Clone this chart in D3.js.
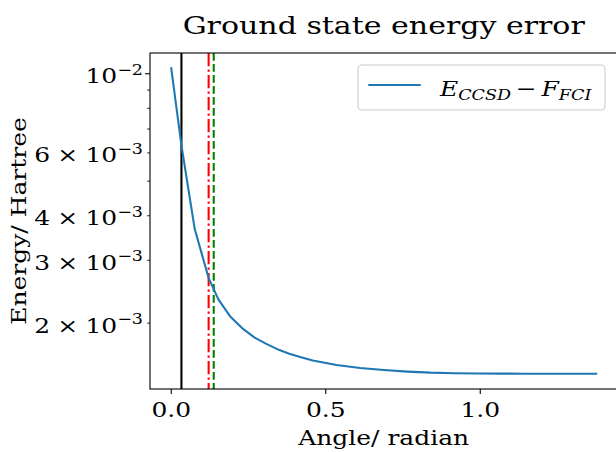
<!DOCTYPE html>
<html>
<head>
<meta charset="utf-8">
<script src="https://cdn.jsdelivr.net/npm/d3@7"></script>
<style>
  body { margin: 0; background: #fff; }
  text { font-family: "DejaVu Serif", serif; fill: #000; }
</style>
</head>
<body>
<svg id="chart" width="616" height="452"></svg>
<script>
// values
const angle = [0, 0.033, 0.076, 0.121, 0.153, 0.19, 0.229, 0.27, 0.306, 0.35, 0.382, 0.42, 0.458,
  0.535, 0.611, 0.688, 0.764, 0.840, 0.917, 0.993, 1.069, 1.146, 1.222, 1.299, 1.375];
const energyError = [1.036e-2, 6.30e-3, 3.67e-3, 2.675e-3, 2.327e-3, 2.092e-3, 1.937e-3, 1.822e-3,
  1.753e-3, 1.681e-3, 1.641e-3, 1.604e-3, 1.572e-3, 1.527e-3, 1.497e-3, 1.478e-3, 1.463e-3,
  1.453e-3, 1.448e-3, 1.445e-3, 1.444e-3, 1.443e-3, 1.443e-3, 1.443e-3, 1.443e-3];

const vlineX = [0.033, 0.121, 0.1375];
const vlineColor = ["#000000", "#ff0000", "#008000"];
const vlineDash = [null, "13.3,3.3,2.1,3.3", "7.7,3.3"];

const xTicks = [0, 0.5, 1.0];
const xTickLabels = ["0.0", "0.5", "1.0"];
const yMajorTicks = [1e-2];
const yMinorTicks = [2e-3, 3e-3, 4e-3, 5e-3, 6e-3, 7e-3, 8e-3, 9e-3];
// labelled ticks: [value, mantissa, exponent]
const yTickLabels = [[1e-2, "", "−2"], [6e-3, "6", "−3"], [4e-3, "4", "−3"], [3e-3, "3", "−3"], [2e-3, "2", "−3"]];

const W = 616, H = 452;
const mLeft = 150, mRight = 617.4, mTop = 53, mBottom = 389;
const stretch = 1.2; // text in the picture is wider than plain DejaVu Serif

const svg = d3.select("#chart");

// 5% margins like matplotlib
let xmin = d3.min(angle), xmax = d3.max(angle);
let xpad = (xmax - xmin) * 0.05;
let x = d3.scaleLinear().domain([xmin - xpad, xmax + xpad]).range([mLeft, mRight]);

let lmin = Math.log10(d3.min(energyError)), lmax = Math.log10(d3.max(energyError));
let lpad = (lmax - lmin) * 0.05;
let y = d3.scaleLog().domain([Math.pow(10, lmin - lpad), Math.pow(10, lmax + lpad)]).range([mBottom, mTop]);

function stext(parent, px, py, size, anchor, rot) {
  return parent.append("text")
    .attr("transform", "translate(" + px + "," + py + ")" + (rot ? " rotate(" + rot + ")" : "") + " scale(" + stretch + ",1)")
    .attr("font-size", size)
    .attr("text-anchor", anchor);
}

let g = svg.append("g");

// vertical lines
vlineX.forEach((v, i) => {
  g.append("line")
    .attr("x1", x(v)).attr("x2", x(v))
    .attr("y1", mTop).attr("y2", mBottom)
    .attr("stroke", vlineColor[i])
    .attr("stroke-width", 2.08)
    .attr("stroke-dasharray", vlineDash[i]);
});

// curve
let line = d3.line()
  .x((d, i) => x(angle[i]))
  .y(d => y(d));

g.append("path")
  .datum(energyError)
  .attr("d", line)
  .attr("fill", "none")
  .attr("stroke", "#1f77b4")
  .attr("stroke-width", 2.08)
  .attr("stroke-linejoin", "round")
  .attr("stroke-linecap", "square");

// spines
g.append("rect")
  .attr("x", mLeft).attr("y", mTop)
  .attr("width", mRight - mLeft).attr("height", mBottom - mTop)
  .attr("fill", "none").attr("stroke", "#000").attr("stroke-width", 1.1);

// x axis
xTicks.forEach((t, i) => {
  g.append("line")
    .attr("x1", x(t)).attr("x2", x(t))
    .attr("y1", mBottom).attr("y2", mBottom + 4.9)
    .attr("stroke", "#000").attr("stroke-width", 1.1);
  stext(g, x(t), mBottom + 27.5, 20.8, "middle").text(xTickLabels[i]);
});

// y axis ticks
yMajorTicks.forEach(t => {
  g.append("line")
    .attr("x1", mLeft - 4.9).attr("x2", mLeft)
    .attr("y1", y(t)).attr("y2", y(t))
    .attr("stroke", "#000").attr("stroke-width", 1.1);
});
yMinorTicks.forEach(t => {
  g.append("line")
    .attr("x1", mLeft - 2.8).attr("x2", mLeft)
    .attr("y1", y(t)).attr("y2", y(t))
    .attr("stroke", "#000").attr("stroke-width", 0.85);
});

yTickLabels.forEach(d => {
  let t = stext(g, 143, y(d[0]) + 9.4, 20.8, "end");
  if (d[1]) {
    t.append("tspan").text(d[1]);
    t.append("tspan").attr("dx", 6).text("×");
    t.append("tspan").attr("dx", 6).text("10");
  } else {
    t.append("tspan").text("10");
  }
  t.append("tspan")
    .attr("dy", -8.4)
    .attr("font-size", 14.6)
    .text(d[2]);
});

// labels
stext(svg, (mLeft + mRight) / 2, 33.5, 25, "middle").text("Ground state energy error");
stext(svg, (mLeft + mRight) / 2, 445, 20.8, "middle").text("Angle/ radian");
stext(svg, 26, (mTop + mBottom) / 2, 20.8, "middle", -90).text("Energy/ Hartree");

// legend
let lg = svg.append("g");
lg.append("rect")
  .attr("x", 358).attr("y", 65)
  .attr("width", 247).attr("height", 45)
  .attr("rx", 4)
  .attr("fill", "#fff").attr("fill-opacity", 0.8)
  .attr("stroke", "#cccccc").attr("stroke-width", 1.1);
lg.append("line")
  .attr("x1", 368.3).attr("x2", 420.7)
  .attr("y1", 85).attr("y2", 85)
  .attr("stroke", "#1f77b4").attr("stroke-width", 2.08);
let lt = stext(lg, 440, 96, 20.8, "start");
lt.append("tspan").attr("font-style", "italic").text("E");
lt.append("tspan").attr("font-style", "italic").attr("font-size", 14.6).attr("dy", 4).text("CCSD");
lt.append("tspan").attr("dy", -4).attr("dx", 4).text("−");
lt.append("tspan").attr("font-style", "italic").attr("dx", 4).text("F");
lt.append("tspan").attr("font-style", "italic").attr("font-size", 14.6).attr("dy", 4).text("FCI");
</script>
</body>
</html>
